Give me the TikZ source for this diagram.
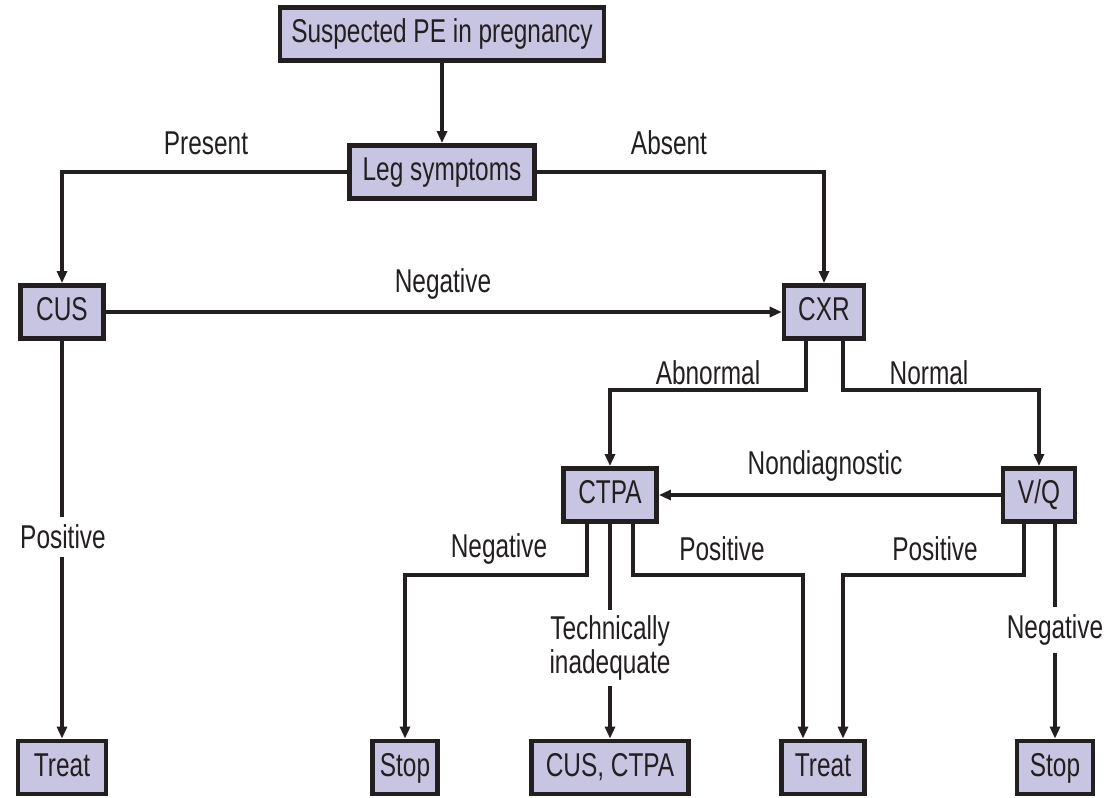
\documentclass[tikz,border=0pt]{standalone}
\usepackage{fontspec}
\setmainfont[FakeStretch=0.74]{Liberation Sans}
\usetikzlibrary{arrows.meta}
\definecolor{boxfill}{RGB}{200,197,227}
\definecolor{ink}{RGB}{35,31,32}
\tikzset{
  box/.style={draw=ink, fill=boxfill, line width=3.4pt, minimum height=40pt, inner sep=0pt, text height=18pt, text depth=5pt, text=ink, font=\fontsize{24.75}{28}\selectfont},
  lbl/.style={inner sep=1pt, text=ink, font=\fontsize{24.75}{28}\selectfont},
  link/.style={draw=ink, line width=3.2pt, -{Triangle[width=7.5pt,length=9pt]}}
}
\begin{document}
\begin{tikzpicture}[x=0.75pt,y=0.75pt,yscale=-1,xscale=1]
    \useasboundingbox (0,0) rectangle (1107,798);

    % Boxes
    \node[box, minimum width=243pt] (start) at (442,34) {Suspected PE in pregnancy};
    \node[box, minimum width=139pt] (leg) at (442,172) {Leg symptoms};
    \node[box, minimum width=62pt] (cus) at (62,312) {CUS};
    \node[box, minimum width=60pt] (cxr) at (824,312) {CXR};
    \node[box, minimum width=70pt] (ctpa) at (610,495) {CTPA};
    \node[box, minimum width=54pt] (vq) at (1039,495) {V/Q};
    \node[box, minimum width=66pt] (treatA) at (62,767.5) {Treat};
    \node[box, minimum width=49pt] (stopA) at (405,767.5) {Stop};
    \node[box, minimum width=118pt] (cusctpa) at (610,767.5) {CUS, CTPA};
    \node[box, minimum width=62pt] (treatB) at (823,767.5) {Treat};
    \node[box, minimum width=57pt] (stopB) at (1055,767.5) {Stop};

    % Connectors
    \draw[link] (start) -- (leg);
    \draw[link] (leg.west) -| (cus.north);
    \draw[link] (leg.east) -| (cxr.north);
    \draw[link] (cus.east) -- (cxr.west);
    \draw[link] (cus.south) -- (treatA.north);
    \draw[link] ([xshift=-13.5pt]cxr.south) -- ++(0,49) -| (ctpa.north);
    \draw[link] ([xshift=14.25pt]cxr.south) -- ++(0,49) -| (vq.north);
    \draw[link] (vq.west) -- (ctpa.east);
    \draw[link] ([xshift=-17.25pt]ctpa.south) -- ++(0,51) -| (stopA.north);
    \draw[link] (ctpa.south) -- (cusctpa.north);
    \draw[link] ([xshift=17.25pt]ctpa.south) -- ++(0,51) -| ([xshift=-15pt]treatB.north);
    \draw[link] ([xshift=-11.25pt]vq.south) -- ++(0,51) -| ([xshift=15pt]treatB.north);
    \draw[link] ([xshift=12pt]vq.south) -- (stopB.north);

    % Text Node
    \node[lbl] (present) at (206,143) {Present};
    % Text Node
    \node[lbl] (absent) at (669,143) {Absent};
    % Text Node
    \node[lbl] (negA) at (443,284) {Negative};
    % Text Node
    \node[lbl, fill=white, inner ysep=6pt] (posA) at (63,537) {Positive};
    % Text Node
    \node[lbl] (abnormal) at (708,373) {Abnormal};
    % Text Node
    \node[lbl] (normal) at (929,373) {Normal};
    % Text Node
    \node[lbl] (nondiag) at (825,466) {Nondiagnostic};
    % Text Node
    \node[lbl] (negB) at (499,549) {Negative};
    % Text Node
    \node[lbl] (posB) at (722,549) {Positive};
    % Text Node
    \node[lbl] (posC) at (935,549) {Positive};
    % Text Node
    \node[lbl, fill=white, align=center, inner ysep=4pt, font=\fontsize{24.75}{26}\selectfont] (tech) at (610,648) {Technically\\inadequate};
    % Text Node
    \node[lbl, fill=white, inner ysep=6pt] (negC) at (1055,630) {Negative};

\end{tikzpicture}
\end{document}
